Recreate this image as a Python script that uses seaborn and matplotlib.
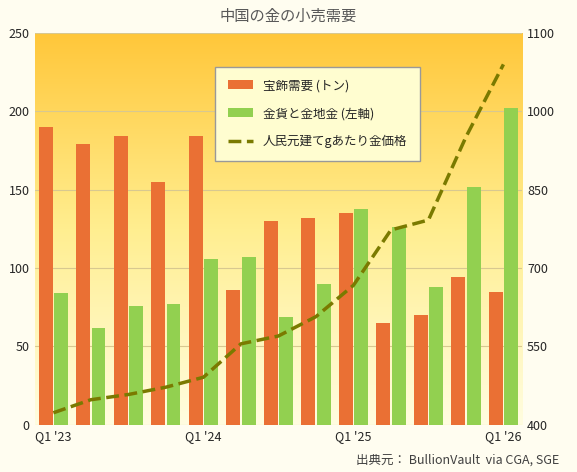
import numpy as np
import pandas as pd
import seaborn as sns
import matplotlib.pyplot as plt
from matplotlib.colors import LinearSegmentedColormap

quarters = ["Q1 '23", "Q2 '23", "Q3 '23", "Q4 '23", "Q1 '24", "Q2 '24", "Q3 '24",
            "Q4 '24", "Q1 '25", "Q2 '25", "Q3 '25", "Q4 '25", "Q1 '26"]
jewelry = [190, 179, 184, 155, 184, 86, 130, 132, 135, 65, 70, 94, 85]
bars_coins = [84, 62, 76, 77, 106, 107, 69, 90, 138, 126, 88, 152, 202]
gold_cny = [423, 448, 458, 472, 491, 555, 570, 607, 667, 773, 792, 951, 1090]
tick_labels = ["Q1 '23", "", "", "", "Q1 '24", "", "", "", "Q1 '25", "", "", "", "Q1 '26"]
right_ticks = [400, 550, 700, 850, 1000, 1150]
right_labels = ["400", "550", "700", "850", "1000", "1100"]

sns.set_style("white")
plt.rcParams['font.family'] = ['Noto Sans CJK JP', 'DejaVu Sans']

fig = plt.figure(figsize=(5.77, 4.72), dpi=100)
fig.patch.set_facecolor('#fffdf0')
ax = fig.add_axes([0.06, 0.1, 0.845, 0.83])

df = pd.DataFrame({
    'q': quarters * 2,
    'v': jewelry + bars_coins,
    's': ['宝飾需要 (トン)'] * 13 + ['金貨と金地金 (左軸)'] * 13,
})
sns.barplot(data=df, x='q', y='v', hue='s', ax=ax,
            palette=['#ea7034', '#92d050'], width=0.82, gap=0.1, saturation=1,
            linewidth=0)
ax.set_ylim(0, 250)
ax.set_xlim(-0.5, 12.5)
cmap = LinearSegmentedColormap.from_list('bg', ['#ffc73a', '#ffee90', '#fffde0'])
ax.imshow(np.linspace(0, 1, 256).reshape(-1, 1), aspect='auto', cmap=cmap,
          extent=[-0.5, 12.5, 0, 250], zorder=0)
ax.set_yticks(range(0, 251, 50))
ax.yaxis.grid(True, color='#d8c890', lw=0.8)
ax.set_axisbelow(True)
ax.set_xticks(range(13))
ax.set_xticklabels(tick_labels, fontsize=9)
ax.tick_params(axis='y', labelsize=9, length=0)
ax.tick_params(axis='x', length=0)
ax.set_xlabel('')
ax.set_ylabel('')
for s in ax.spines.values():
    s.set_visible(False)

ax2 = ax.twinx()
sns.lineplot(x=list(range(13)), y=gold_cny, ax=ax2, color='#7a7a00', lw=2.5,
             linestyle='--', label='人民元建てgあたり金価格', legend=False)
ax2.set_ylim(400, 1150)
ax2.set_yticks(right_ticks)
ax2.set_yticklabels(right_labels)
ax2.tick_params(axis='y', labelsize=9, length=0)
for s in ax2.spines.values():
    s.set_visible(False)

h1, l1 = ax.get_legend_handles_labels()
h2, l2 = ax2.get_legend_handles_labels()
ax.legend_.remove()
leg = ax2.legend(h1 + h2, l1 + l2, loc='upper center', bbox_to_anchor=(0.58, 0.93),
                 fontsize=9, frameon=True, facecolor='#fffdd0', edgecolor='#999999',
                 fancybox=False, borderpad=1.0, labelspacing=1.2)
leg.get_frame().set_alpha(1)

fig.text(0.5, 0.965, '中国の金の小売需要', ha='center', va='center', fontsize=11, color='#595959')
fig.text(0.97, 0.025, '出典元： BullionVault  via CGA, SGE', ha='right', va='center',
         fontsize=9, color='#404040')

fig.savefig('out.png', dpi=100)
